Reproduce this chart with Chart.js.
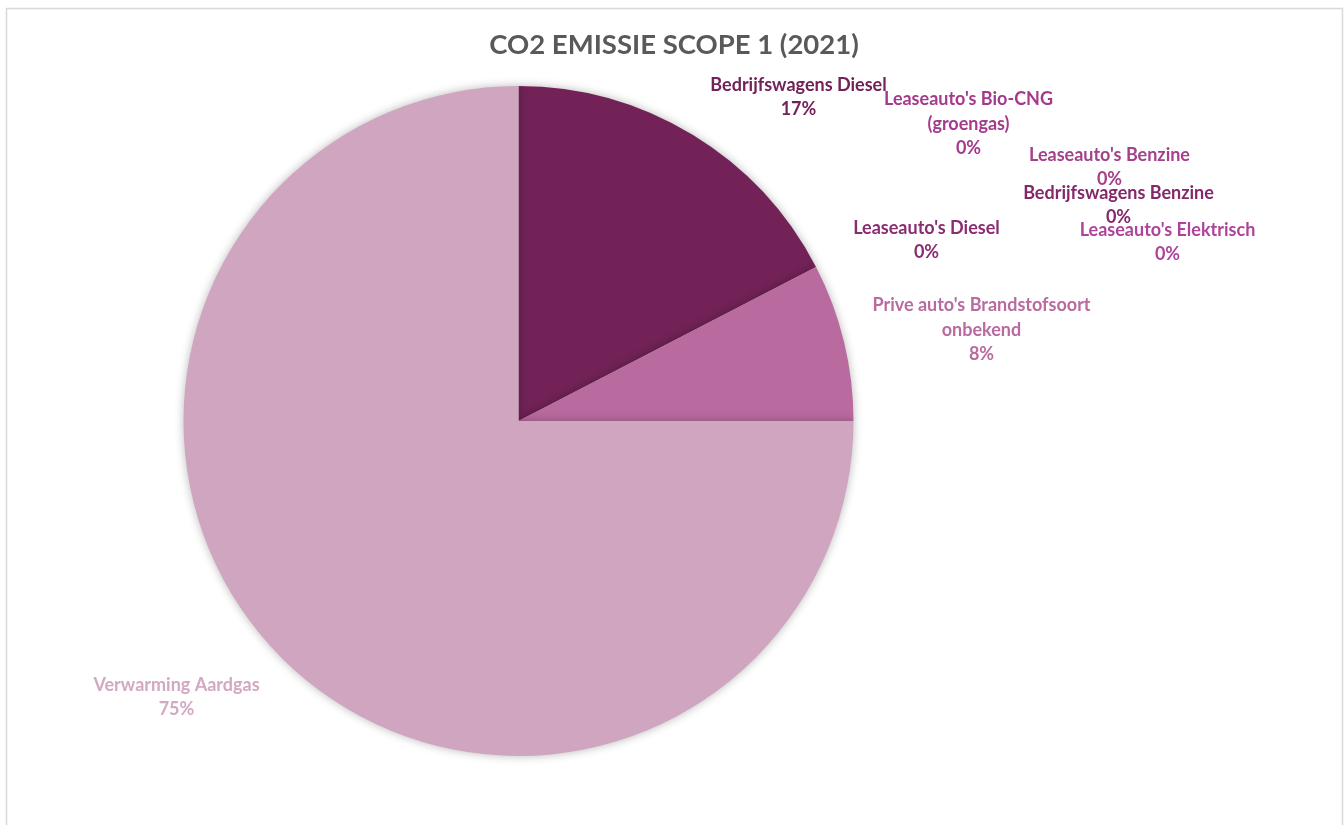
<!DOCTYPE html>
<html>
<head>
<meta charset="utf-8">
<script src="https://cdn.jsdelivr.net/npm/chart.js@4.4.1/dist/chart.umd.min.js"></script>
<style>
  html, body { margin: 0; padding: 0; background: #ffffff; }
  #wrap { position: relative; width: 1344px; height: 825px; overflow: hidden; }
  canvas { display: block; }
</style>
</head>
<body>
<div id="wrap"><canvas id="c" width="1344" height="825"></canvas></div>
<script>
// ---- data ----
const chartTitle = "CO2 EMISSIE SCOPE 1 (2021)";
const categoryLines = [
  ["Bedrijfswagens Diesel"],
  ["Leaseauto's Bio-CNG", "(groengas)"],
  ["Leaseauto's Benzine"],
  ["Bedrijfswagens Benzine"],
  ["Leaseauto's Elektrisch"],
  ["Leaseauto's Diesel"],
  ["Prive auto's Brandstofsoort", "onbekend"],
  ["Verwarming Aardgas"]
];
const categories = categoryLines.map(l => l.join(" "));
const values = [17.4, 0, 0, 0, 0, 0, 7.6, 75];

// ---- styles ----
const sliceColors = ["#722257", "#A33A8B", "#A4418A", "#84286A", "#AE439C", "#8A2C70", "#B96A9F", "#D0A5BF"];
const labelColors = ["#722257", "#A33A8B", "#A4418A", "#84286A", "#AE439C", "#8A2C70", "#B96A9F", "#D3A8C3"];
// label block centres, relative to pie centre (px)
const labelOffsets = [[280, -324], [450, -297], [591, -254], [600, -216], [649, -179], [408, -181], [463, -91], [-342, 276]];

const total = values.reduce((a, b) => a + b, 0);

const framePlugin = {
  id: 'frame',
  beforeDraw(chart) {
    const ctx = chart.ctx;
    ctx.save();
    ctx.fillStyle = '#ffffff';
    ctx.fillRect(0, 0, chart.width, chart.height);
    ctx.strokeStyle = '#D9D9D9';
    ctx.lineWidth = 1.5;
    ctx.beginPath();
    ctx.moveTo(6.5, 830);
    ctx.lineTo(6.5, 8.5);
    ctx.lineTo(1342.5, 8.5);
    ctx.lineTo(1342.5, 830);
    ctx.stroke();
    // title
    ctx.fillStyle = '#595959';
    ctx.font = 'bold 27.5px Lato, "Open Sans", sans-serif';
    ctx.textAlign = 'center';
    ctx.textBaseline = 'middle';
    ctx.fillText(chartTitle, 674, 45);
    ctx.restore();
  },
  beforeDatasetsDraw(chart) {
    const ctx = chart.ctx;
    ctx.save();
    ctx.shadowColor = 'rgba(0,0,0,0.28)';
    ctx.shadowBlur = 10;
    ctx.shadowOffsetX = 0;
    ctx.shadowOffsetY = 0;
  },
  afterDatasetsDraw(chart) {
    chart.ctx.restore();
    const ctx = chart.ctx;
    const meta = chart.getDatasetMeta(0);
    const arc0 = meta.data[0];
    const cx = arc0.x, cy = arc0.y;
    ctx.save();
    ctx.font = 'bold 18px Lato, "Open Sans", sans-serif';
    ctx.textAlign = 'center';
    ctx.textBaseline = 'middle';
    const lh = 24.5;
    categoryLines.forEach((lines, i) => {
      const pct = Math.round(values[i] / total * 100) + '%';
      const all = lines.concat([pct]);
      const [dx, dy] = labelOffsets[i];
      const bx = cx + dx, by = cy + dy;
      const top = by - (all.length - 1) * lh / 2;
      ctx.fillStyle = labelColors[i];
      all.forEach((t, k) => ctx.fillText(t, bx, top + k * lh));
    });
    ctx.restore();
  }
};

new Chart(document.getElementById('c'), {
  type: 'pie',
  data: {
    labels: categories,
    datasets: [{
      data: values,
      backgroundColor: sliceColors,
      borderWidth: 0,
      hoverOffset: 0
    }]
  },
  options: {
    responsive: false,
    animation: false,
    devicePixelRatio: 1,
    layout: { padding: { left: 183, right: 490, top: 86, bottom: 69 } },
    plugins: {
      legend: { display: false },
      title: { display: false },
      tooltip: { enabled: false }
    }
  },
  plugins: [framePlugin]
});
</script>
</body>
</html>
